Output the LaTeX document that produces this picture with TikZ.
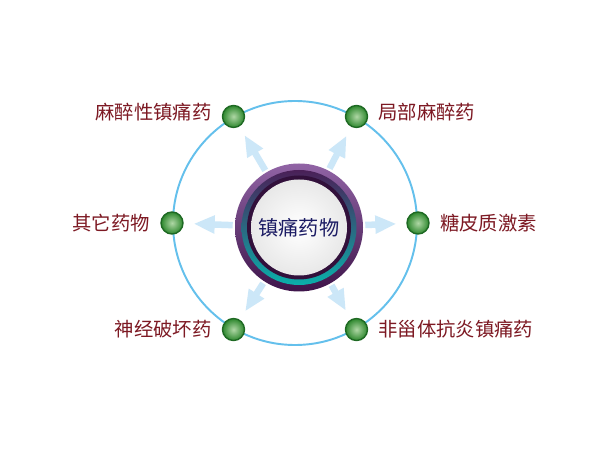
\documentclass[tikz,border=0pt]{standalone}
\usepackage{fontspec}
\newfontfamily\cjk{Noto Sans CJK SC}
\usetikzlibrary{positioning,arrows.meta}
\definecolor{orbitblue}{RGB}{100,192,236}
\definecolor{arrowblue}{RGB}{204,231,248}
\definecolor{labelred}{RGB}{125,25,35}
\definecolor{corenavy}{RGB}{28,28,100}
\definecolor{ringlight}{RGB}{145,100,165}
\definecolor{ringdark}{RGB}{62,20,74}
\definecolor{ringteal}{RGB}{10,175,170}
\definecolor{dotlight}{RGB}{175,215,165}
\definecolor{dotdark}{RGB}{45,135,45}
\definecolor{dotedge}{RGB}{30,105,35}

\begin{document}
\begin{tikzpicture}[
  mydot/.style={circle,draw=dotedge,line width=0.8pt,inner color=dotlight,outer color=dotdark,minimum size=0.44cm,inner sep=0},
  mylabel/.style={font=\cjk\fontsize{11}{13}\selectfont,text=labelred,inner sep=0},
  myarrow/.style={draw=arrowblue,line width=0.13cm,-{Triangle[width=0.34cm,length=0.42cm]},shorten <=0.04cm,shorten >=0.2cm}
]
\fill[white] (0,0) rectangle (12,9);
\useasboundingbox (0,0) rectangle (12,9);
\coordinate (orbit) at (5.9,4.54);
\coordinate (hub) at (5.98,4.45);
\draw[orbitblue,line width=1.1pt] (orbit) circle[radius=2.44cm];
% centre ring
\shade[shading angle=45,top color=ringlight,bottom color=ringdark] (hub) circle[radius=1.28cm];
\shade[shading angle=45,top color=ringdark!85!ringlight,middle color=ringdark,bottom color=ringteal] (hub) circle[radius=1.15cm];
\fill[ringdark!80!black] (hub) circle[radius=1.04cm];
\shade[inner color=white,outer color=gray!18] (hub) circle[radius=0.96cm];
\node[circle,minimum size=2.56cm,inner sep=0,font=\cjk\fontsize{11.5}{13}\selectfont,text=corenavy] (core) at (hub) {镇痛药物};
% outer dots
\node[mydot] (d60) at ([shift={(60:2.46)}]orbit) {};
\node[mydot] (d120) at ([shift={(120:2.46)}]orbit) {};
\node[mydot] (d180) at ([shift={(180:2.46)}]orbit) {};
\node[mydot] (d0) at ([shift={(0:2.46)}]orbit) {};
\node[mydot] (d240) at ([shift={(240:2.46)}]orbit) {};
\node[mydot] (d300) at ([shift={(300:2.46)}]orbit) {};
\node[mylabel,left=0.2cm of d120,yshift=0.08cm] (anesthetic) {麻醉性镇痛药};
\node[mylabel,right=0.2cm of d60,yshift=0.08cm] (local) {局部麻醉药};
\node[mylabel,left=0.2cm of d180] (other) {其它药物};
\node[mylabel,right=0.2cm of d0] (cortico) {糖皮质激素};
\node[mylabel,left=0.2cm of d240] (neuro) {神经破坏药};
\node[mylabel,right=0.2cm of d300] (nsaid) {非甾体抗炎镇痛药};
\path (core) edge[myarrow] (d60)
(core) edge[myarrow] (d120)
(core) edge[myarrow] (d180)
(core) edge[myarrow] (d0)
(core) edge[myarrow] (d240)
(core) edge[myarrow] (d300);
\end{tikzpicture}
\end{document}
